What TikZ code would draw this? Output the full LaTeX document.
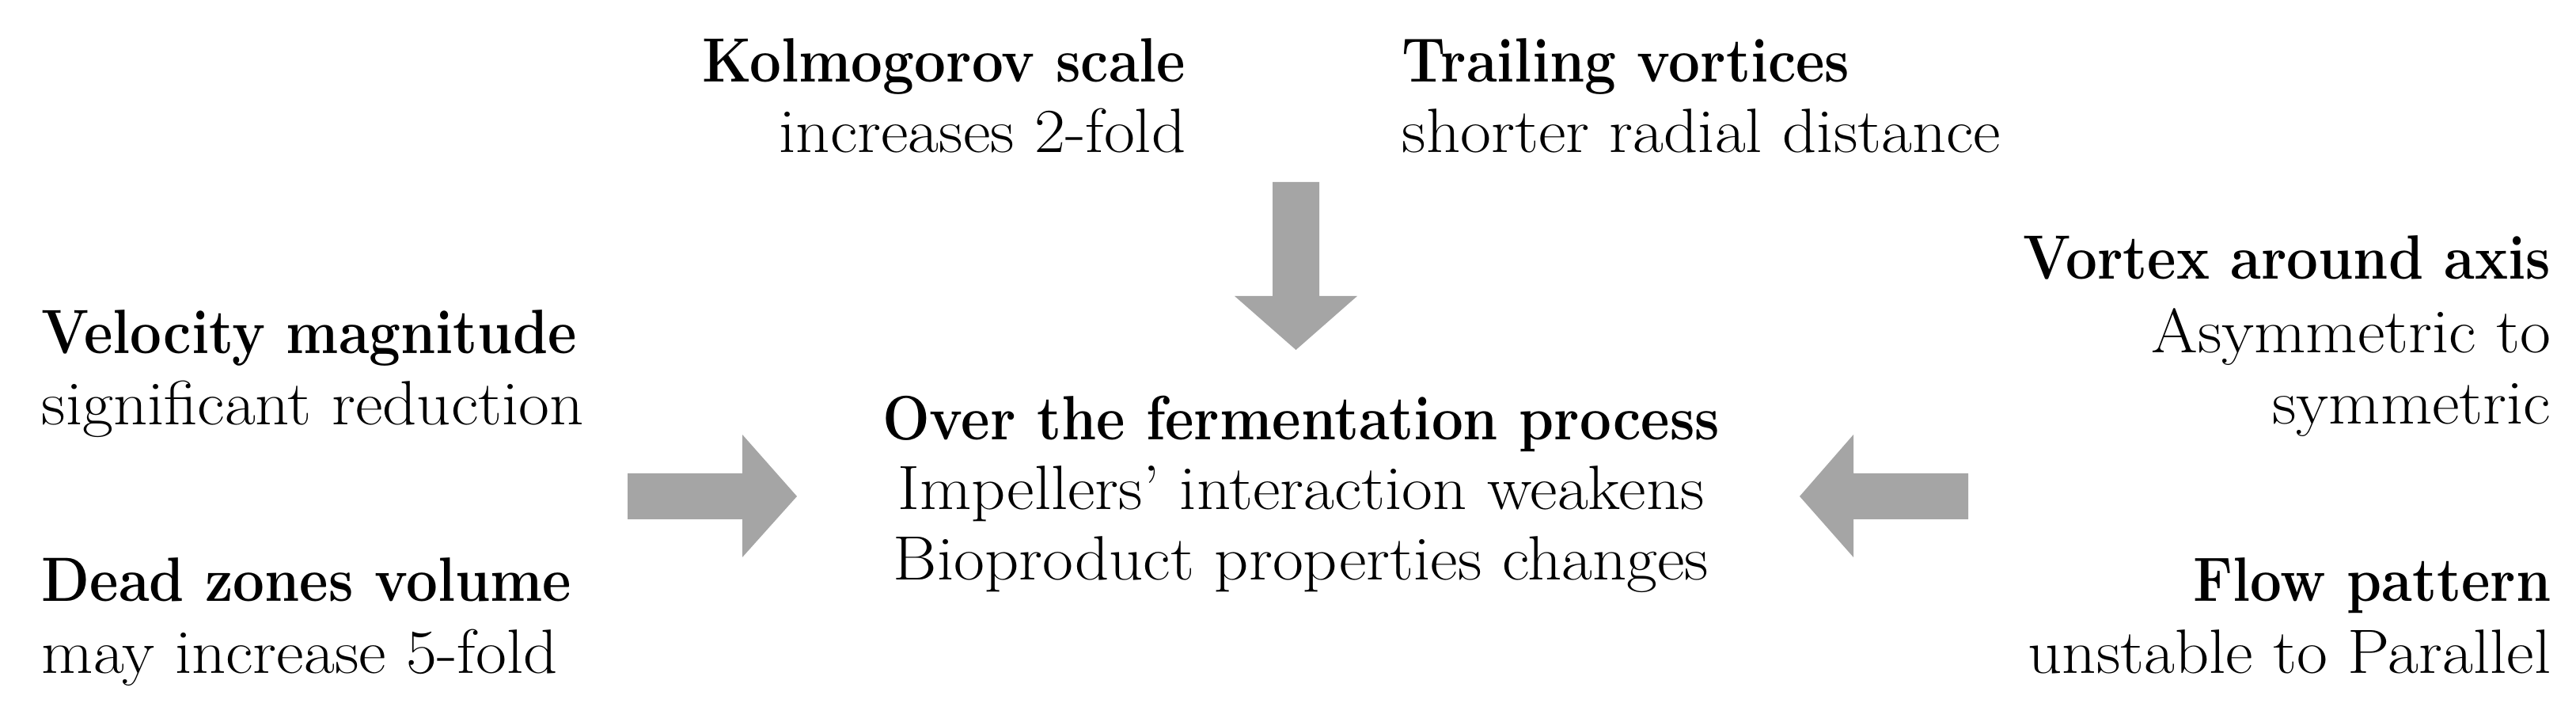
\documentclass[tikz,border=0pt]{standalone}
\usepackage{graphicx}
\definecolor{arrowgray}{RGB}{165,165,165}
\newcommand{\hdtext}[1]{\scalebox{0.895}[1]{\bfseries #1}}
\newcommand{\rgtext}[1]{\scalebox{1.07}[1]{#1}}
\begin{document}
\begin{tikzpicture}[
  txt/.style={inner sep=0pt, font=\fontsize{22.5}{27}\selectfont},
  tl/.style={txt, anchor=base west},
  tr/.style={txt, anchor=base east},
  tc/.style={txt, anchor=base},
  blockarrow/.style={fill=arrowgray, draw=none}
]
\useasboundingbox (0,0) rectangle (32.55,9.07);

% top block
\node[tr] (kol) at (14.99,8.03) {\hdtext{Kolmogorov scale}};
\node[tr] (kol2) at (14.99,7.14) {\rgtext{increases 2-fold}};
\node[tl] (trail) at (17.71,8.03) {\hdtext{Trailing vortices}};
\node[tl] (trail2) at (17.71,7.14) {\rgtext{shorter radial distance}};

% left block
\node[tl] (vel) at (0.52,4.60) {\hdtext{Velocity magnitude}};
\node[tl] (vel2) at (0.52,3.70) {\rgtext{significant reduction}};
\node[tl] (dead) at (0.52,1.47) {\hdtext{Dead zones volume}};
\node[tl] (dead2) at (0.52,0.56) {\rgtext{may increase 5-fold}};

% centre block
\node[tc] (over) at (16.44,3.51) {\hdtext{Over the fermentation process}};
\node[tc] (imp) at (16.44,2.63) {\rgtext{Impellers' interaction weakens}};
\node[tc] (bio) at (16.44,1.74) {\rgtext{Bioproduct properties changes}};

% right block
\node[tr] (vor) at (32.24,5.54) {\hdtext{Vortex around axis}};
\node[tr] (vor2) at (32.24,4.61) {\rgtext{Asymmetric to}};
\node[tr] (vor3) at (32.24,3.71) {\rgtext{symmetric}};
\node[tr] (flow) at (32.24,1.47) {\hdtext{Flow pattern}};
\node[tr] (flow2) at (32.24,0.56) {\rgtext{unstable to Parallel}};

% block arrows
\fill[blockarrow] (16.08,6.77) -- (16.67,6.77) -- (16.67,5.33) -- (17.15,5.33)
  -- (16.375,4.65) -- (15.60,5.33) -- (16.08,5.33) -- cycle;
\fill[blockarrow] (7.93,3.09) -- (9.38,3.09) -- (9.38,3.58) -- (10.07,2.80)
  -- (9.38,2.03) -- (9.38,2.51) -- (7.93,2.51) -- cycle;
\fill[blockarrow] (24.87,3.09) -- (23.42,3.09) -- (23.42,3.58) -- (22.74,2.80)
  -- (23.42,2.03) -- (23.42,2.51) -- (24.87,2.51) -- cycle;
\end{tikzpicture}
\end{document}
